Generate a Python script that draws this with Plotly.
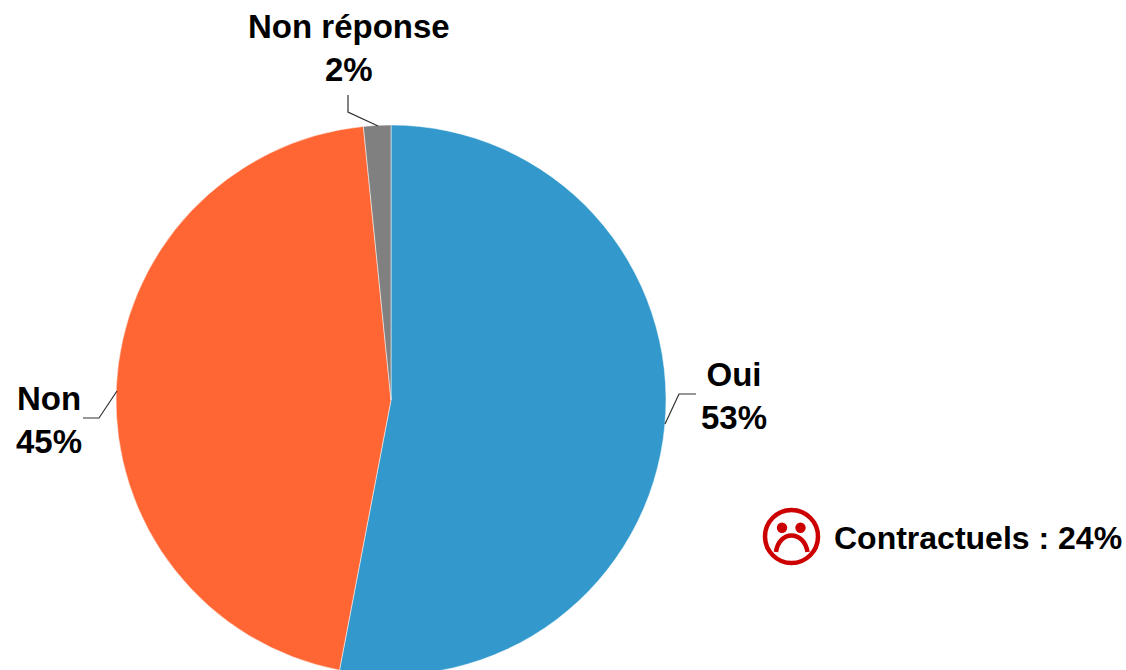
import plotly.graph_objects as go

categories = ["Oui", "Non", "Non réponse"]
values = [53.0, 45.4, 1.6]
display_pct = ["53%", "45%", "2%"]
colors = ["#3399CC", "#FF6633", "#808080"]

W, H = 1126, 680
FONT = "Liberation Sans, Arial, sans-serif"
RED = "#CC0000"


def X(v):
    return v / W


def Y(v):
    return 1 - v / H


fig = go.Figure(
    go.Pie(
        labels=categories,
        values=values,
        sort=False,
        direction="clockwise",
        rotation=0,
        textinfo="none",
        hoverinfo="label+percent",
        marker=dict(colors=colors, line=dict(color="#FFFFFF", width=0.5)),
        domain=dict(x=[X(116), X(666)], y=[Y(675), Y(125)]),
        showlegend=False,
    )
)

label_pos = [(734, 396), (49, 420), (349, 48)]
annotations = [
    dict(
        x=X(px), y=Y(py), xref="paper", yref="paper",
        text=f"<b>{c}<br>{p}</b>", showarrow=False, align="center",
        xanchor="center", yanchor="middle",
        font=dict(family=FONT, size=33, color="#000000"),
    )
    for c, p, (px, py) in zip(categories, display_pct, label_pos)
]
annotations.append(
    dict(
        x=X(832), y=Y(538), xref="paper", yref="paper",
        text="<b>Contractuels : 24%</b>", showarrow=False,
        xanchor="left", yanchor="middle",
        font=dict(family=FONT, size=32, color="#000000"),
    )
)


def path(points):
    return "M " + " L ".join(f"{X(a)} {Y(b)}" for a, b in points)


leaders = [
    [(665, 424), (679, 394), (696, 394)],
    [(117, 391), (99, 418), (83, 418)],
    [(378, 126), (348, 112), (348, 95)],
]
shapes = [
    dict(type="path", xref="paper", yref="paper", path=path(p),
         line=dict(color="#303030", width=1.2))
    for p in leaders
]


def circle(cx, cy, r, **kw):
    return dict(type="circle", xref="paper", yref="paper",
                x0=X(cx - r), x1=X(cx + r), y0=Y(cy + r), y1=Y(cy - r), **kw)


shapes += [
    circle(791.5, 536.5, 26.5, line=dict(color=RED, width=4.5), fillcolor="rgba(0,0,0,0)"),
    circle(782, 527.7, 5.2, line=dict(width=0), fillcolor=RED),
    circle(800.5, 527.7, 5.2, line=dict(width=0), fillcolor=RED),
    dict(type="path", xref="paper", yref="paper",
         path=(f"M {X(776)} {Y(552)} C {X(779)} {Y(530)} {X(804)} {Y(530)} {X(807.5)} {Y(552)}"),
         line=dict(color=RED, width=4.5), fillcolor="rgba(0,0,0,0)"),
]

fig.update_layout(
    width=W, height=H,
    margin=dict(l=0, r=0, t=0, b=0),
    paper_bgcolor="#FFFFFF",
    annotations=annotations,
    shapes=shapes,
)

fig.write_html(
    "out.html",
    config={"displayModeBar": False},
    post_script="document.body.style.margin='0';document.documentElement.style.overflow='hidden';document.body.style.overflow='hidden';",
)
